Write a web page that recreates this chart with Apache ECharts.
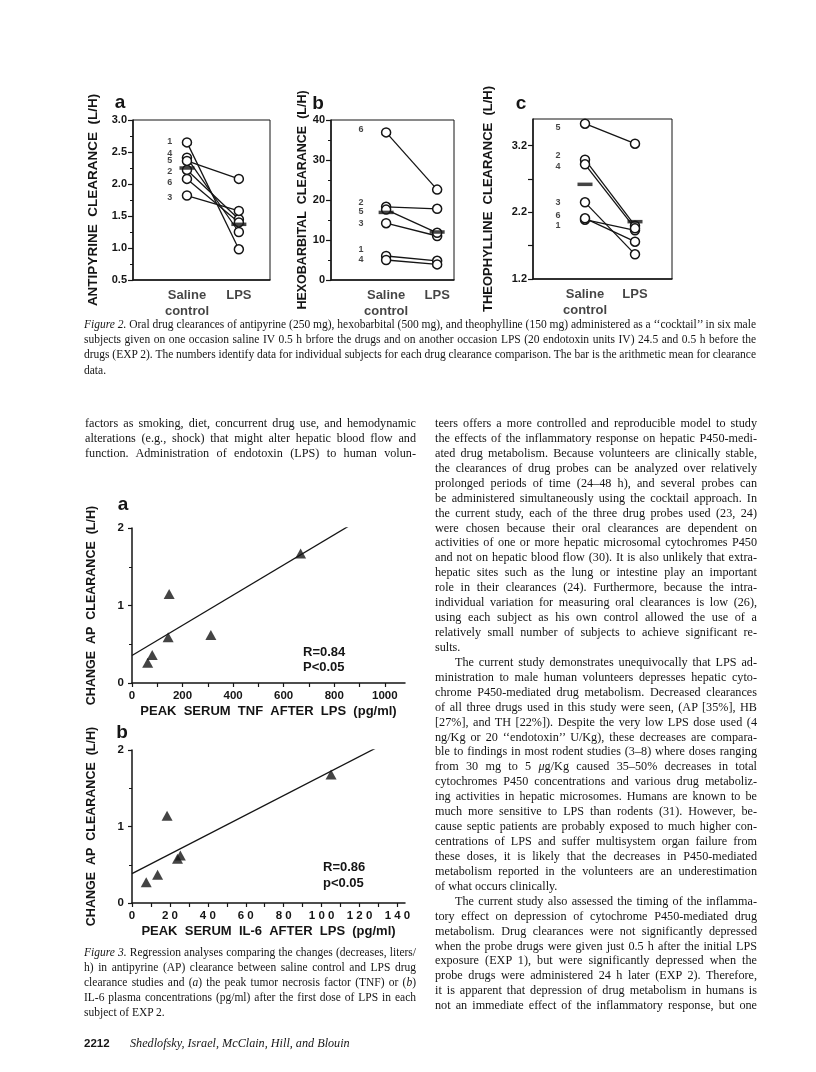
<!DOCTYPE html>
<html>
<head>
<meta charset="utf-8">
<script src="https://cdn.jsdelivr.net/npm/echarts@6/dist/echarts.min.js"></script>
<style>
html,body{margin:0;padding:0;background:#fff;}
#page{position:relative;width:816px;height:1072px;overflow:hidden;background:#fff;}
#chart{position:absolute;left:0;top:0;width:816px;height:1072px;}
.ln{position:absolute;white-space:nowrap;font-family:"Liberation Serif","Times New Roman",serif;color:#151515;}
.foot{position:absolute;white-space:nowrap;color:#151515;}
</style>
</head>
<body>
<div id="page"><div id="chart"></div></div>
<script>
// ---- Figure 2: subject numbers and oral clearances (saline control vs LPS) ----
var subjects = ['1', '2', '3', '4', '5', '6'];
var groups = ['Saline\ncontrol', 'LPS'];
var groupX = [2, 3];

var apSaline = [2.65, 2.22, 1.82, 2.41, 2.36, 2.08];
var apLps    = [0.98, 1.45, 1.58, 1.25, 2.08, 1.40];
var apMean   = [2.25, 1.37];
var apLabelY = [2.66, 2.19, 1.79, 2.47, 2.36, 2.02];

var hbSaline = [6.0, 18.3, 14.2, 5.0, 17.6, 36.9];
var hbLps    = [4.8, 17.8, 11.0, 3.9, 11.8, 22.6];
var hbMean   = [16.9, 12.0];
var hbLabelY = [7.5, 19.3, 14.0, 5.0, 17.2, 37.7];

var thSaline = [2.09, 2.99, 2.35, 2.92, 3.53, 2.11];
var thLps    = [1.93, 2.00, 1.57, 1.96, 3.23, 1.76];
var thMean   = [2.62, 2.06];
var thLabelY = [2.00, 3.05, 2.35, 2.89, 3.47, 2.15];

var apTicks = [0.5, 1.0, 1.5, 2.0, 2.5, 3.0];
var hbTicks = [0, 10, 20, 30, 40];
var thTicks = [1.2, 2.2, 3.2];
var thMinor = [1.2, 1.7, 2.2, 2.7, 3.2];

// ---- Figure 3: change in AP clearance vs peak TNF / IL-6 ----
var tnfPeak  = [62, 80, 143, 147, 312, 667];
var tnfDelta = [0.26, 0.36, 0.59, 1.15, 0.62, 1.67];
var tnfFit   = [[0, 0.355], [860, 2.03]];

var il6Peak  = [7.5, 13.5, 18.5, 24, 25.5, 105];
var il6Delta = [0.27, 0.37, 1.14, 0.58, 0.62, 1.68];
var il6Fit   = [[0, 0.385], [129, 2.03]];

var tnfTicks  = [0, 100, 200, 300, 400, 500, 600, 700, 800, 900, 1000];
var tnfLabels = [0, 200, 400, 600, 800, 1000];
var il6Ticks  = [0, 10, 20, 30, 40, 50, 60, 70, 80, 90, 100, 110, 120, 130, 140];
var il6Labels = [0, 20, 40, 60, 80, 100, 120, 140];

var INK = '#151515';
var SANS = '"Liberation Sans", Arial, sans-serif';

var chart = echarts.init(document.getElementById('chart'));

var panels = [
  {sal: apSaline, lps: apLps, mean: apMean, lab: apLabelY, labOff: -0.33, ymin: 0.5},
  {sal: hbSaline, lps: hbLps, mean: hbMean, lab: hbLabelY, labOff: -0.49, ymin: 0},
  {sal: thSaline, lps: thLps, mean: thMean, lab: thLabelY, labOff: -0.54, ymin: 1.2}
];

var series = [];
panels.forEach(function(p, g){
    for (var i = 0; i < subjects.length; i++) {
        series.push({
            type: 'line', xAxisIndex: g, yAxisIndex: g,
            data: [[groupX[0], p.sal[i]], [groupX[1], p.lps[i]]],
            symbol: 'circle', symbolSize: 9, z: 3,
            itemStyle: {color: '#fff', borderColor: INK, borderWidth: 1.5},
            lineStyle: {color: INK, width: 1.3}
        });
    }
    series.push({
        type: 'scatter', xAxisIndex: g, yAxisIndex: g, z: 5,
        symbol: 'rect', symbolSize: [15, 3.5],
        itemStyle: {color: INK},
        data: [[groupX[0], p.mean[0]], [groupX[1], p.mean[1]]]
    });
    // subject numbers beside the saline points
    series.push({
        type: 'scatter', xAxisIndex: g, yAxisIndex: g, symbolSize: 0, silent: true,
        data: subjects.map(function(s, i){ return {name: s, value: [groupX[0] + p.labOff, p.lab[i]]}; }),
        label: {show: true, position: 'inside', formatter: '{b}',
                fontFamily: SANS, fontWeight: 'bold', fontSize: 9, color: INK}
    });
    // group names under the box
    series.push({
        type: 'scatter', xAxisIndex: g, yAxisIndex: g, symbolSize: 0, silent: true,
        data: groups.map(function(s, k){ return {name: s, value: [groupX[k], p.ymin]}; }),
        label: {show: true, position: 'bottom', distance: 7, formatter: '{b}',
                fontFamily: SANS, fontWeight: 'bold', fontSize: 13, lineHeight: 16, color: INK}
    });
});

series.push({
    type: 'scatter', xAxisIndex: 3, yAxisIndex: 3, symbol: 'triangle', symbolSize: [11, 10],
    itemStyle: {color: INK},
    data: tnfPeak.map(function(v, i){ return [v, tnfDelta[i]]; })
});
series.push({
    type: 'line', xAxisIndex: 3, yAxisIndex: 3, symbol: 'none',
    lineStyle: {color: INK, width: 1.3}, data: tnfFit
});
series.push({
    type: 'scatter', xAxisIndex: 4, yAxisIndex: 4, symbol: 'triangle', symbolSize: [11, 10],
    itemStyle: {color: INK},
    data: il6Peak.map(function(v, i){ return [v, il6Delta[i]]; })
});
series.push({
    type: 'line', xAxisIndex: 4, yAxisIndex: 4, symbol: 'none',
    lineStyle: {color: INK, width: 1.3}, data: il6Fit
});

function fig2X(g, left, right){
    return {
        gridIndex: g, type: 'value', min: groupX[0] - left, max: groupX[1] + right,
        splitLine: {show: false},
        axisLine: {onZero: false, lineStyle: {color: INK, width: 1.5}},
        axisTick: {show: false},
        axisLabel: {show: false}
    };
}
function fig2Y(g, min, max, labels, ticks, minor, name, gap, digits, nameSize){
    return {
        gridIndex: g, type: 'value', min: min, max: max, position: 'left',
        splitLine: {show: false},
        axisLine: {show: true, onZero: false, lineStyle: {color: INK, width: 1.5}},
        axisTick: {show: true, customValues: ticks, length: 5, lineStyle: {color: INK, width: 1.2}},
        minorTick: {show: minor, splitNumber: 2, length: 3, lineStyle: {color: INK, width: 1}},
        axisLabel: {customValues: labels, fontFamily: SANS, fontWeight: 'bold', fontSize: 11, color: INK, margin: 6,
                    formatter: function(v){ return v.toFixed(digits); }},
        name: name, nameLocation: 'middle', nameRotate: 90, nameGap: gap,
        nameTextStyle: {fontFamily: SANS, fontWeight: 'bold', fontSize: nameSize, color: INK}
    };
}
function fig3X(g, max, ticks, labels, name, spaced){
    return {
        gridIndex: g, type: 'value', min: 0, max: max,
        splitLine: {show: false},
        axisLine: {onZero: false, lineStyle: {color: INK, width: 1.5}},
        axisTick: {customValues: ticks, length: 4, lineStyle: {color: INK, width: 1.2}},
        axisLabel: {customValues: labels, fontFamily: SANS, fontWeight: 'bold', fontSize: 11.5,
                    color: INK, margin: 7,
                    formatter: function(v){ return spaced ? String(v).split('').join(' ') : String(v); }},
        name: name, nameLocation: 'middle', nameGap: 22,
        nameTextStyle: {fontFamily: SANS, fontWeight: 'bold', fontSize: 13, color: INK}
    };
}
function fig3Y(g){
    return {
        gridIndex: g, type: 'value', min: 0, max: 2, interval: 1,
        splitLine: {show: false},
        axisLine: {show: true, onZero: false, lineStyle: {color: INK, width: 1.5}},
        axisTick: {show: true, length: 4, lineStyle: {color: INK, width: 1.2}},
        minorTick: {show: true, splitNumber: 2, length: 3, lineStyle: {color: INK}},
        axisLabel: {fontFamily: SANS, fontWeight: 'bold', fontSize: 11.5, color: INK, margin: 8},
        name: 'CHANGE  AP  CLEARANCE  (L/H)', nameLocation: 'middle', nameRotate: 90, nameGap: 34,
        nameTextStyle: {fontFamily: SANS, fontWeight: 'bold', fontSize: 12.5, color: INK}
    };
}

function txt(x, y, s, size, align){
    return {type: 'text', x: x, y: y, style: {text: s, fontFamily: SANS, fontWeight: 'bold',
            fontSize: size, fill: INK, align: align || 'center', verticalAlign: 'middle'}};
}

chart.setOption({
    animation: false,
    grid: [
        {left: 133, top: 120, width: 137, height: 160, show: true, borderColor: INK, borderWidth: 1, containLabel: false},
        {left: 331, top: 120, width: 123, height: 160, show: true, borderColor: INK, borderWidth: 1, containLabel: false},
        {left: 533, top: 119, width: 139, height: 160, show: true, borderColor: INK, borderWidth: 1, containLabel: false},
        {left: 132, top: 528, width: 273, height: 155, containLabel: false},
        {left: 132, top: 750, width: 273, height: 153, containLabel: false}
    ],
    xAxis: [
        fig2X(0, 1.04, 0.6),
        fig2X(1, 1.08, 0.33),
        fig2X(2, 1.04, 0.74),
        fig3X(3, 1080, tnfTicks, tnfLabels, 'PEAK  SERUM  TNF  AFTER  LPS  (pg/ml)', false),
        fig3X(4, 144, il6Ticks, il6Labels, 'PEAK  SERUM  IL-6  AFTER  LPS  (pg/ml)', true)
    ],
    yAxis: [
        fig2Y(0, 0.5, 3.0, apTicks, apTicks, true, 'ANTIPYRINE  CLEARANCE  (L/H)', 33, 1, 13.5),
        fig2Y(1, 0, 40, hbTicks, hbTicks, true, 'HEXOBARBITAL  CLEARANCE  (L/H)', 21, 0, 12.5),
        fig2Y(2, 1.2, 3.6, thTicks, thMinor, false, 'THEOPHYLLINE  CLEARANCE  (L/H)', 38, 1, 13),
        fig3Y(3),
        fig3Y(4)
    ],
    series: series,
    graphic: [
        txt(120, 103, 'a', 19), txt(318, 104, 'b', 19), txt(521, 104, 'c', 19),
        txt(123, 505, 'a', 19), txt(122, 733, 'b', 19),
        txt(303, 652, 'R=0.84', 13, 'left'), txt(303, 667, 'P<0.05', 13, 'left'),
        txt(323, 867, 'R=0.86', 13, 'left'), txt(323, 883, 'p<0.05', 13, 'left')
    ]
});

// ---- article text ----
var cap2Lines = [
  '<i>Figure 2.</i> Oral drug clearances of antipyrine (250 mg), hexobarbital (500 mg), and theophylline (150 mg) administered as a \u2018\u2018cocktail\u2019\u2019 in six male',
  'subjects given on one occasion saline IV 0.5 h brfore the drugs and on another occasion LPS (20 endotoxin units IV) 24.5 and 0.5 h before the',
  'drugs (EXP 2). The numbers identify data for individual subjects for each drug clearance comparison. The bar is the arithmetic mean for clearance',
  'data.'
];
var cap3Lines = [
  '<i>Figure 3.</i> Regression analyses comparing the changes (decreases, liters/',
  'h) in antipyrine (AP) clearance between saline control and LPS drug',
  'clearance studies and (<i>a</i>) the peak tumor necrosis factor (TNF) or (<i>b</i>)',
  'IL-6 plasma concentrations (pg/ml) after the first dose of LPS in each',
  'subject of EXP 2.'
];
var leftLines = [
  'factors as smoking, diet, concurrent drug use, and hemodynamic',
  'alterations (e.g., shock) that might alter hepatic blood flow and',
  'function. Administration of endotoxin (LPS) to human volun-'
];
var rightLines = [
  'teers offers a more controlled and reproducible model to study',
  'the effects of the inflammatory response on hepatic P450-medi-',
  'ated drug metabolism. Because volunteers are clinically stable,',
  'the clearances of drug probes can be analyzed over relatively',
  'prolonged periods of time (24\u201348 h), and several probes can',
  'be administered simultaneously using the cocktail approach. In',
  'the current study, each of the three drug probes used (23, 24)',
  'were chosen because their oral clearances are dependent on',
  'activities of one or more hepatic microsomal cytochromes P450',
  'and not on hepatic blood flow (30). It is also unlikely that extra-',
  'hepatic sites such as the lung or intestine play an important',
  'role in their clearances (24). Furthermore, because the intra-',
  'individual variation for measuring oral clearances is low (26),',
  'using each subject as his own control allowed the use of a',
  'relatively small number of subjects to achieve significant re-',
  '*sults.',
  '>The current study demonstrates unequivocally that LPS ad-',
  'ministration to male human volunteers depresses hepatic cyto-',
  'chrome P450-mediated drug metabolism. Decreased clearances',
  'of all three drugs used in this study were seen, (AP [35%], HB',
  '[27%], and TH [22%]). Despite the very low LPS dose used (4',
  'ng/Kg or 20 \u2018\u2018endotoxin\u2019\u2019 U/Kg), these decreases are compara-',
  'ble to findings in most rodent studies (3\u20138) where doses ranging',
  'from 30 mg to 5 <i>\u03bc</i>g/Kg caused 35\u201350% decreases in total',
  'cytochromes P450 concentrations and various drug metaboliz-',
  'ing activities in hepatic microsomes. Humans are known to be',
  'much more sensitive to LPS than rodents (31). However, be-',
  'cause septic patients are probably exposed to much higher con-',
  'centrations of LPS and suffer multisystem organ failure from',
  'these doses, it is likely that the decreases in P450-mediated',
  'metabolism reported in the volunteers are an underestimation',
  '*of what occurs clinically.',
  '>The current study also assessed the timing of the inflamma-',
  'tory effect on depression of cytochrome P450-mediated drug',
  'metabolism. Drug clearances were not significantly depressed',
  'when the probe drugs were given just 0.5 h after the initial LPS',
  'exposure (EXP 1), but were significantly depressed when the',
  'probe drugs were administered 24 h later (EXP 2). Therefore,',
  'it is apparent that depression of drug metabolism in humans is',
  'not an immediate effect of the inflammatory response, but one'
];

var page = document.getElementById('page');
function putLine(html, x, yMid, width, size){
    var last = false, indent = 0;
    if (html.charAt(0) === '*') { last = true; html = html.slice(1); }
    if (html.charAt(0) === '>') { indent = 20; html = html.slice(1); }
    var d = document.createElement('div');
    d.className = 'ln';
    d.style.fontSize = size + 'px';
    d.style.lineHeight = '15px';
    d.style.left = (x + indent) + 'px';
    d.style.top = (yMid - 8) + 'px';
    d.innerHTML = html;
    page.appendChild(d);
    if (last || width == null) return;
    var w = width - indent;
    var nat = d.getBoundingClientRect().width;
    var gaps = (d.textContent.match(/ /g) || []).length;
    if (nat > w) {
        d.style.letterSpacing = ((w - nat) / d.textContent.length) + 'px';
        nat = d.getBoundingClientRect().width;
    }
    if (gaps > 0 && nat < w) d.style.wordSpacing = ((w - nat) / gaps) + 'px';
}

cap2Lines.forEach(function(s, i){ putLine(i === 3 ? '*' + s : s, 84, 325 + i * 15.2, 672, 11.5); });
cap3Lines.forEach(function(s, i){ putLine(i === 4 ? '*' + s : s, 84, 953 + i * 15, 332, 11.5); });
leftLines.forEach(function(s, i){ putLine(s, 85, 424 + i * 15, 331, 12.2); });
rightLines.forEach(function(s, i){ putLine(s, 435, 424 + i * 14.93, 322, 12.2); });

var f1 = document.createElement('div');
f1.className = 'foot';
f1.style.cssText = 'left:84px;top:1037px;font:bold 11.5px "Liberation Sans",Arial,sans-serif;';
f1.textContent = '2212';
page.appendChild(f1);
var f2 = document.createElement('div');
f2.className = 'foot';
f2.style.cssText = 'left:130px;top:1036px;font:italic 12.2px "Liberation Serif",serif;';
f2.textContent = 'Shedlofsky, Israel, McClain, Hill, and Blouin';
page.appendChild(f2);
</script>
</body>
</html>
